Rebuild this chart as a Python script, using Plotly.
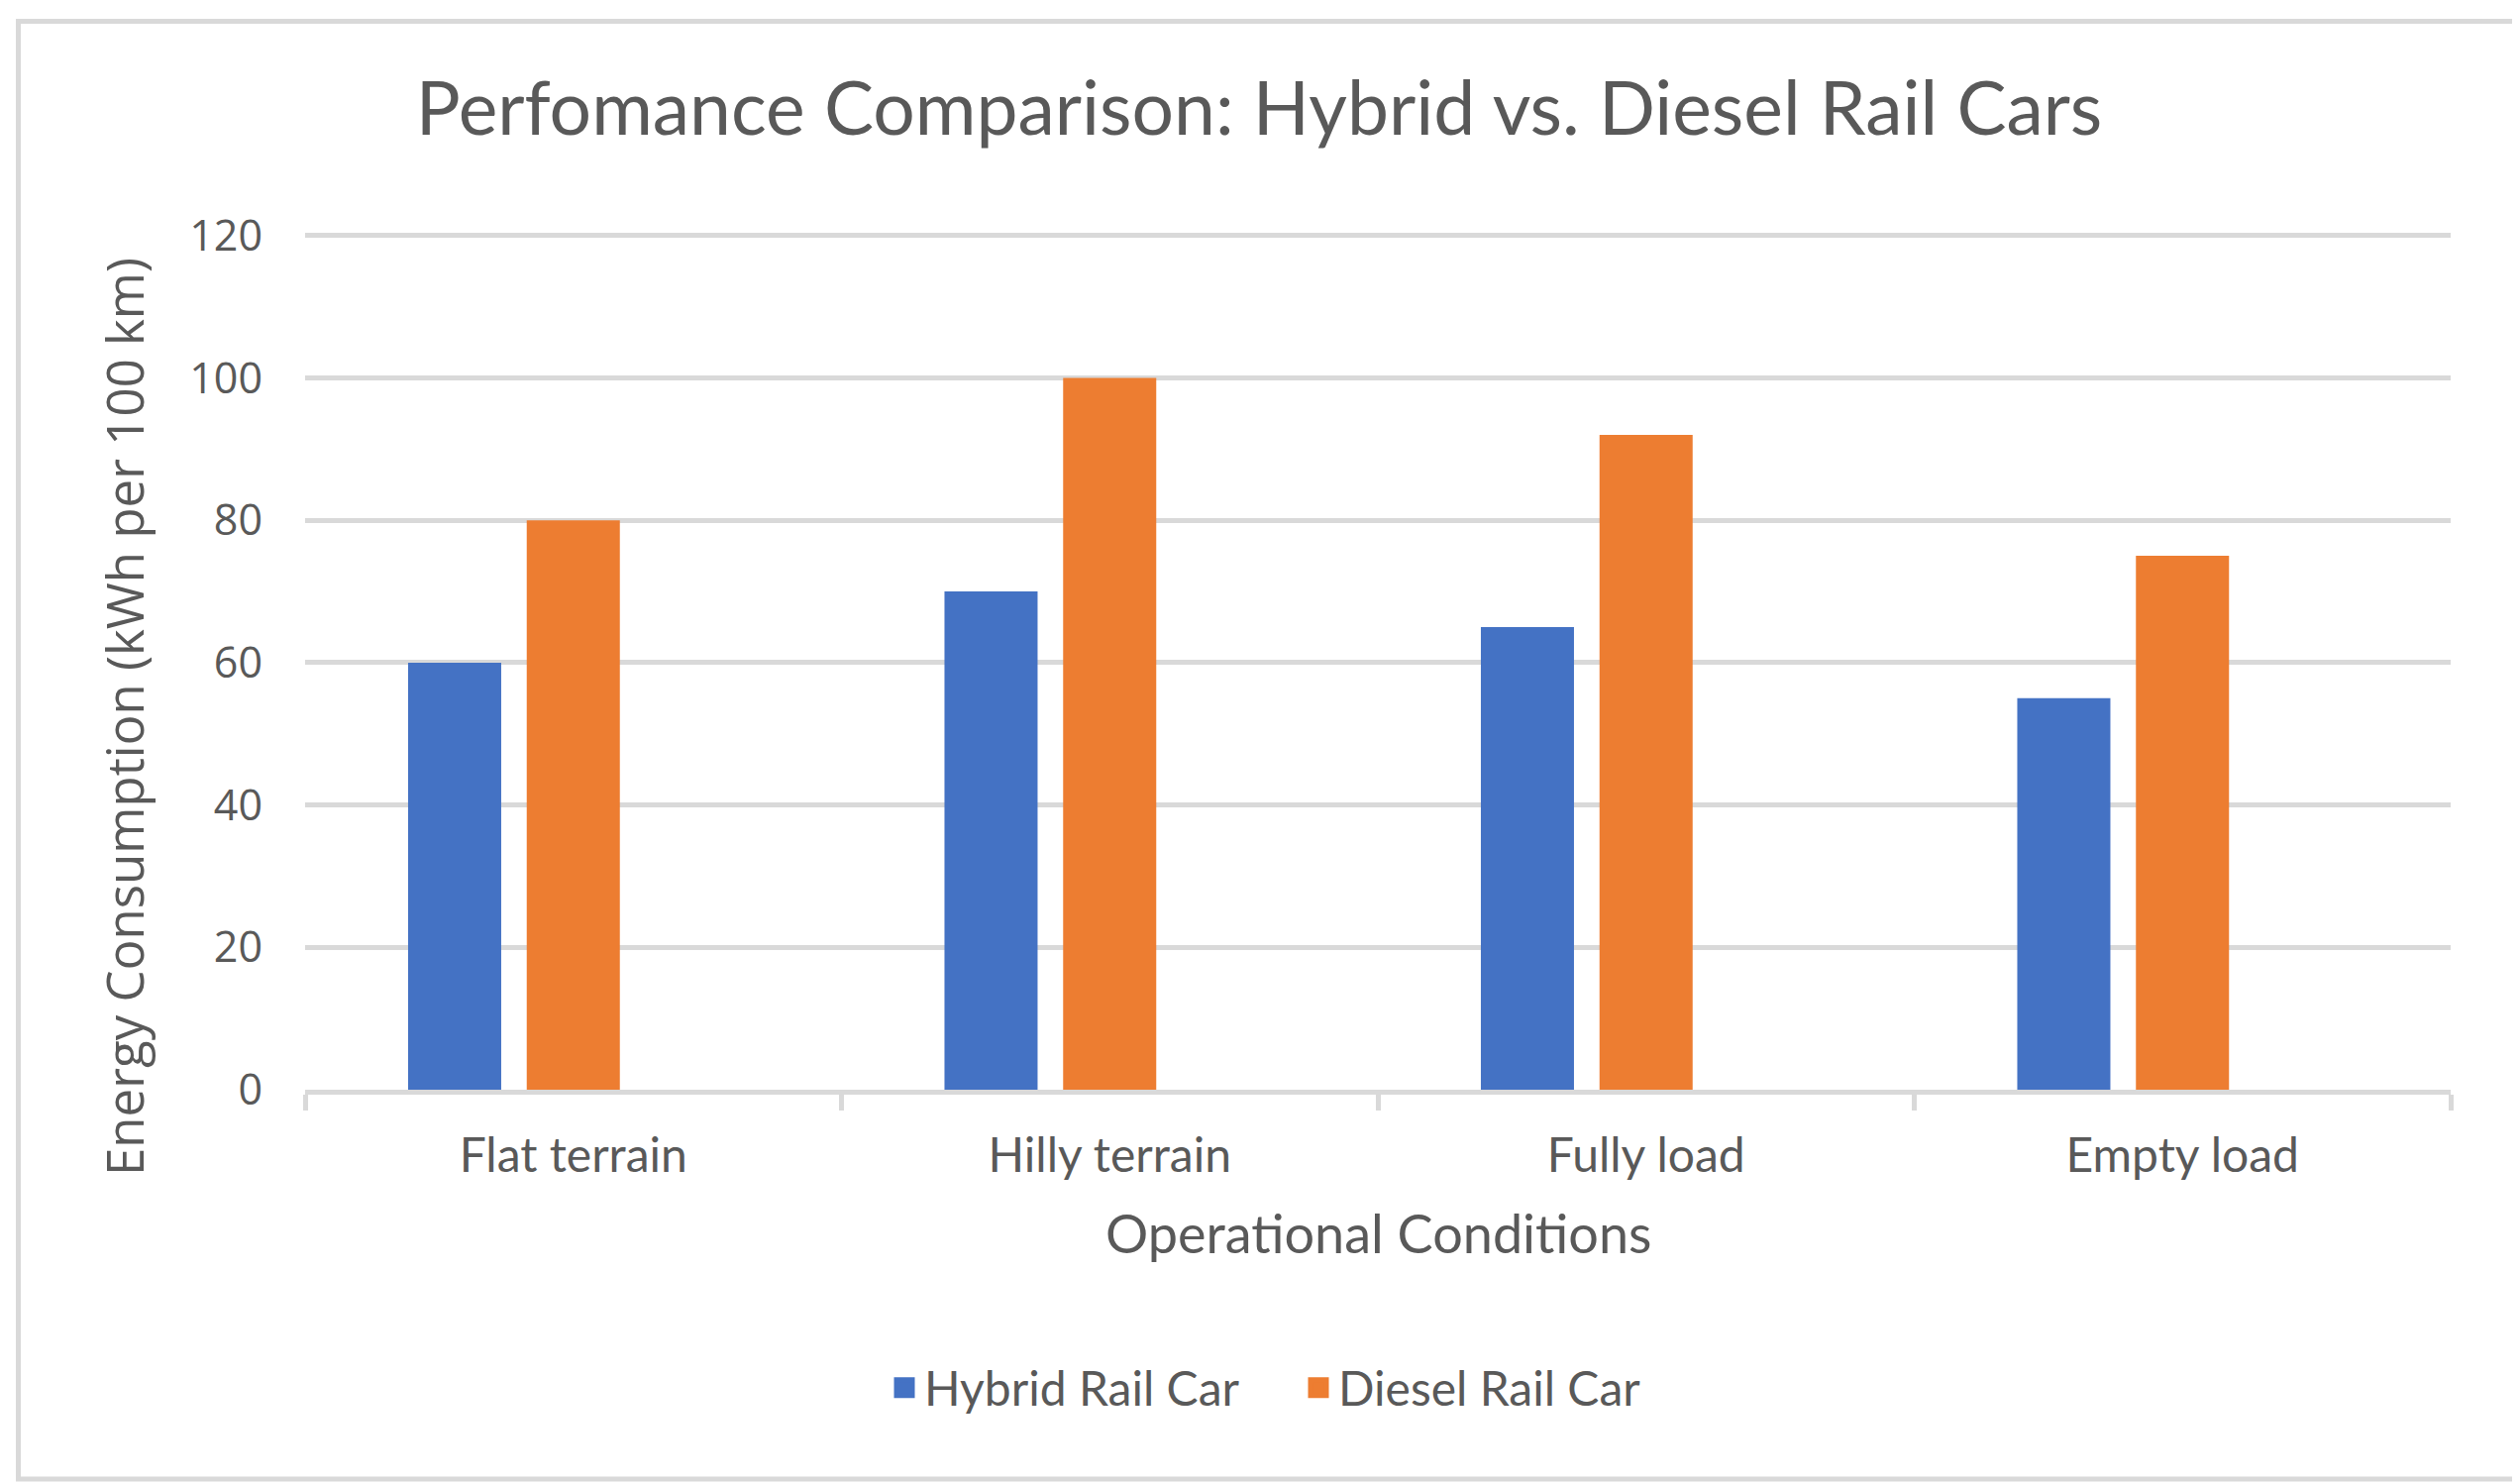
import plotly.graph_objects as go

# Chart data
conditions = ["Flat terrain", "Hilly terrain", "Fully load", "Empty load"]
hybrid_values = [60, 70, 65, 55]
diesel_values = [80, 100, 92, 75]
series_names = ["Hybrid Rail Car", "Diesel Rail Car"]
y_ticks = [0, 20, 40, 60, 80, 100, 120]

title_text = "Perfomance Comparison: Hybrid vs. Diesel Rail Cars"
x_title = "Operational Conditions"
y_title = "Energy Consumption (kWh per 100 km)"

# Page geometry (pixels)
W, H = 2544, 1497
M_L, M_R, M_T, M_B = 300, 78, 228, 405
PLOT_W = W - M_L - M_R
PLOT_H = H - M_T - M_B

TEXT = "#595959"
GRID = "#D9D9D9"
BLUE = "#4472C4"
ORANGE = "#ED7D31"
MAIN_FONT = "Lato"
ALT_FONT = "Open Sans"


def px_to_paper_x(px):
    return (px - M_L) / PLOT_W


def px_to_paper_y(py):
    return (H - M_B - py) / PLOT_H


# Excel-style grouping leaves room for a third (empty) slot in each group
bar_w = 0.1736
bar_gap = 0.0476
first_offset = -(3 * bar_w + 2 * bar_gap) / 2

fig = go.Figure()
for name, values, color, k in [
    (series_names[0], hybrid_values, BLUE, 0),
    (series_names[1], diesel_values, ORANGE, 1),
]:
    fig.add_trace(
        go.Bar(
            x=conditions,
            y=values,
            name=name,
            marker=dict(color=color, line=dict(width=0)),
            width=bar_w,
            offset=first_offset + k * (bar_w + bar_gap),
            showlegend=False,
        )
    )
    # legend-only entry so the swatch can be a larger square
    fig.add_trace(
        go.Scatter(
            x=[None],
            y=[None],
            mode="markers",
            name=name,
            marker=dict(symbol="square", size=16, color=color, line=dict(color=color, width=5)),
            hoverinfo="skip",
        )
    )

fig.update_layout(
    width=W,
    height=H,
    margin=dict(l=M_L, r=M_R, t=M_T, b=M_B, autoexpand=False),
    paper_bgcolor="white",
    plot_bgcolor="white",
    barmode="overlay",
    title=dict(
        text=title_text,
        font=dict(family=MAIN_FONT, size=75, color=TEXT),
        x=0.5 - 9 / W,
        xanchor="center",
        xref="container",
        y=1 - 102 / H,
        yanchor="middle",
        yref="container",
    ),
    xaxis=dict(
        range=[-0.5, len(conditions) - 0.5],
        showgrid=False,
        showline=True,
        linecolor=GRID,
        linewidth=5,
        ticks="outside",
        tickson="boundaries",
        ticklen=16,
        tickwidth=5,
        tickcolor=GRID,
        tickfont=dict(family=MAIN_FONT, size=48, color=TEXT),
        ticklabelstandoff=20,
        zeroline=False,
    ),
    yaxis=dict(
        range=[0, 120.25],
        tickvals=y_ticks,
        showgrid=True,
        gridcolor=GRID,
        gridwidth=4.5,
        showline=False,
        zeroline=False,
        ticks="",
        tickfont=dict(family=ALT_FONT, size=43, color=TEXT),
        ticklabelstandoff=42,
    ),
    legend=dict(
        orientation="h",
        xref="container",
        yref="container",
        x=885 / W,
        xanchor="left",
        y=1 - 1393 / H,
        yanchor="middle",
        font=dict(family=MAIN_FONT, size=48, color=TEXT),
        itemsizing="trace",
        entrywidth=373,
        entrywidthmode="pixels",
    ),
    annotations=[
        dict(
            text=x_title,
            xref="paper",
            yref="paper",
            x=0.5,
            y=px_to_paper_y(1236),
            xanchor="center",
            yanchor="middle",
            showarrow=False,
            font=dict(family=MAIN_FONT, size=54, color=TEXT),
        ),
        dict(
            text=y_title,
            xref="paper",
            yref="paper",
            x=px_to_paper_x(117),
            y=px_to_paper_y(716),
            xanchor="center",
            yanchor="middle",
            textangle=-90,
            showarrow=False,
            font=dict(family=ALT_FONT, size=51, color=TEXT),
        ),
    ],
    shapes=[
        # Outer chart frame
        dict(
            type="rect",
            xref="paper",
            yref="paper",
            x0=px_to_paper_x(10.5),
            x1=px_to_paper_x(2531),
            y0=px_to_paper_y(1485),
            y1=px_to_paper_y(13.5),
            line=dict(color=GRID, width=5),
            fillcolor="rgba(0,0,0,0)",
            layer="below",
        )
    ],
)

fig.write_html("out.html")
